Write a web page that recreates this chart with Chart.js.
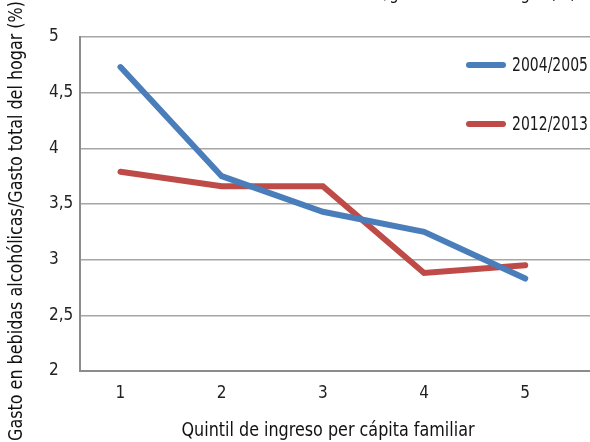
<!DOCTYPE html>
<html>
<head>
<meta charset="utf-8">
<script src="https://cdn.jsdelivr.net/npm/chart.js@4"></script>
<style>
  html, body { margin: 0; padding: 0; background: #fff; }
  #wrap { width: 590px; height: 442px; position: relative; }
</style>
</head>
<body>
<div id="wrap"><canvas id="gastoChart"></canvas></div>
<script>
const quintiles = [1, 2, 3, 4, 5];
const serie2004 = [4.73, 3.75, 3.43, 3.25, 2.83];
const serie2012 = [3.79, 3.66, 3.66, 2.88, 2.95];
const seriesNames = ['2004/2005', '2012/2013'];
const yTicks = [2, 2.5, 3, 3.5, 4, 4.5, 5];
const topTitle = 'Gasto en bebidas alcohólicas/gasto total del hogar (%)';
const yTitle = 'Gasto en bebidas alcohólicas/Gasto total del hogar (%)';
const xTitle = 'Quintil de ingreso per cápita familiar';

const FONT = '"DejaVu Sans Condensed", "DejaVu Sans", sans-serif';

// text squeezed to a given width (the original uses a narrow font)
function fitText(c, text, x, y, width, align) {
    const w = c.measureText(text).width;
    const k = width / w;
    c.save();
    c.translate(x, y);
    c.scale(k, 1);
    c.textAlign = align;
    c.fillText(text, 0, 0);
    c.restore();
}

const decorations = {
    id: 'decorations',
    afterDraw(chart) {
        const c = chart.ctx;
        const rows = [65, 124];
        c.save();
        // legend floating over the plot
        chart.data.datasets.forEach((ds, i) => {
            c.strokeStyle = ds.borderColor;
            c.lineWidth = 6;
            c.lineCap = 'round';
            c.beginPath();
            c.moveTo(469, rows[i]);
            c.lineTo(503, rows[i]);
            c.stroke();
            c.fillStyle = '#1a1a1a';
            c.font = '19px ' + FONT;
            c.textBaseline = 'middle';
            fitText(c, ds.label, 512, rows[i] + 1, 76, 'left');
        });
        // title cut off by the top edge
        c.fillStyle = '#1a1a1a';
        c.font = '17px ' + FONT;
        c.textBaseline = 'alphabetic';
        fitText(c, topTitle, 576, -1, 410, 'right');
        // x axis title
        c.fillStyle = '#111';
        c.font = '19px ' + FONT;
        c.textBaseline = 'middle';
        fitText(c, xTitle, 328, 431, 293, 'center');
        // y axis title
        c.translate(17, 221);
        c.rotate(-Math.PI / 2);
        fitText(c, yTitle, 0, 0, 440, 'center');
        c.restore();
    }
};

const ctx = document.getElementById('gastoChart');
new Chart(ctx, {
    type: 'line',
    data: {
        datasets: [
            {
                label: seriesNames[0],
                data: quintiles.map((q, i) => ({ x: q, y: serie2004[i] })),
                borderColor: '#4A7EBB',
                borderWidth: 6,
                borderCapStyle: 'round',
                pointRadius: 0,
                tension: 0
            },
            {
                label: seriesNames[1],
                data: quintiles.map((q, i) => ({ x: q, y: serie2012[i] })),
                borderColor: '#BE4B48',
                borderWidth: 6,
                borderCapStyle: 'round',
                pointRadius: 0,
                tension: 0
            }
        ]
    },
    options: {
        responsive: true,
        maintainAspectRatio: false,
        animation: false,
        layout: { padding: { top: 37, right: 0, left: 49, bottom: 0 } },
        plugins: {
            legend: { display: false },
            tooltip: { enabled: false }
        },
        scales: {
            x: {
                type: 'linear',
                min: 0.6,
                max: 5.64,
                afterBuildTicks(scale) {
                    scale.ticks = quintiles.map(v => ({ value: v }));
                },
                afterFit(scale) { scale.height = 71; },
                grid: { display: false, drawTicks: false },
                border: { color: '#8c8c8c', width: 2 },
                ticks: {
                    padding: 12,
                    color: '#222',
                    font: { family: FONT, size: 17 },
                    callback: v => String(v)
                }
            },
            y: {
                min: 2,
                max: 5,
                afterBuildTicks(scale) {
                    scale.ticks = yTicks.map(v => ({ value: v }));
                },
                afterFit(scale) { scale.width = 31; },
                grid: { color: '#a6a6a6', lineWidth: 1.5, drawTicks: false },
                border: { color: '#8c8c8c', width: 2 },
                ticks: {
                    padding: 8,
                    crossAlign: 'far',
                    color: '#222',
                    font: { family: FONT, size: 17 },
                    callback: v => String(v).replace('.', ',')
                }
            }
        }
    },
    plugins: [decorations]
});
</script>
</body>
</html>
